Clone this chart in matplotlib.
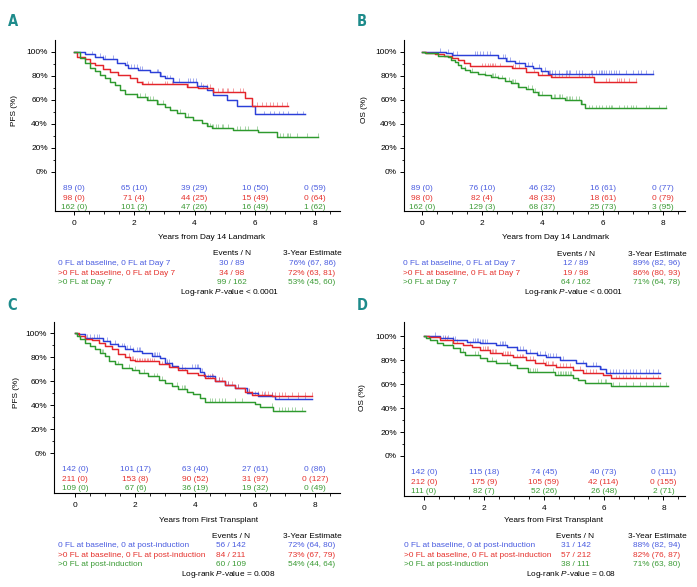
import numpy as np
import matplotlib
matplotlib.use('Agg')
import matplotlib.pyplot as plt
from matplotlib.ticker import FixedLocator

plt.rcParams['font.family'] = ['Liberation Sans', 'DejaVu Sans']
plt.rcParams['mathtext.fontset'] = 'custom'
plt.rcParams['mathtext.it'] = 'Liberation Sans:italic'
plt.rcParams['mathtext.rm'] = 'Liberation Sans'

# ---------------- data ----------------
# Panel A: PFS from Day 14 landmark
A_blue_t = [0, 0.37, 0.70, 0.97, 1.42, 1.69, 1.80, 2.13, 2.52, 2.85, 3.02, 3.30, 4.07, 4.40, 4.62, 5.07, 5.40, 6.01]
A_blue_s = [100, 98, 96, 94, 91, 89, 87, 85, 83, 80, 78, 75, 72, 68, 64, 60, 55, 48]
A_blue_end = 7.67
A_blue_c = [0.6, 0.85, 0.97, 1.03, 1.3, 1.75, 1.8, 1.9, 2.0, 2.1, 2.2, 2.25, 2.75, 2.8, 2.85, 2.9, 3.1, 3.2,
            3.5, 3.8, 3.85, 3.95, 4.05, 4.2, 6.3, 6.5, 6.65, 6.8, 6.95, 7.1, 7.4, 7.6]
A_red_t = [0, 0.1, 0.35, 0.53, 0.70, 0.97, 1.19, 1.47, 1.86, 2.08, 2.25, 3.74, 4.13, 4.62, 5.67, 5.90]
A_red_s = [100, 96, 94.5, 91, 89, 86, 83.5, 81, 78, 75, 73, 71, 70, 66.5, 62, 55]
A_red_end = 7.11
A_red_c = [2.25, 2.3, 2.47, 2.58, 3.02, 3.08, 3.24, 3.3, 3.8, 4.07, 4.29, 4.4, 4.51, 4.62, 4.79, 4.9, 4.96,
           5.07, 5.12, 5.29, 5.51, 5.62, 6.06, 6.23, 6.39, 6.5, 6.62, 6.73, 6.89, 7.06]
A_green_t = [0, 0.2, 0.37, 0.53, 0.70, 0.86, 1.03, 1.19, 1.36, 1.53, 1.69, 2.08, 2.41, 2.74, 3.02, 3.19, 3.41,
             3.68, 3.96, 4.24, 4.40, 4.57, 5.29, 6.12, 6.73]
A_green_s = [100, 95, 91, 87, 84, 81, 78.5, 75, 72.5, 68, 65, 62.5, 60, 57, 54, 51.5, 49, 46, 43, 40.5, 38,
             36.5, 35, 33, 29.5]
A_green_end = 8.11
A_green_c = [2.08, 2.19, 2.36, 2.47, 2.52, 2.63, 2.74, 2.8, 2.96, 3.19, 3.52, 3.68, 3.79, 4.4, 4.46, 4.51, 4.57,
             4.62, 4.73, 4.79, 4.9, 4.96, 5.12, 5.4, 5.51, 5.67, 5.79, 6.06, 6.84, 6.95, 7.06, 7.11, 7.17, 7.39,
             7.72, 8.11]

# Panel B: OS from Day 14 landmark
B_blue_t = [0, 0.82, 1.0, 2.53, 2.81, 3.08, 3.41, 3.69, 3.97, 4.19]
B_blue_s = [100, 99, 97.5, 95, 92.5, 90.5, 88.5, 86.5, 84, 82]
B_blue_end = 7.67
B_blue_c = [0.6, 0.88, 1.04, 1.16, 1.77, 1.82, 1.93, 2.04, 2.16, 2.27, 2.71, 2.77, 2.82, 2.93, 3.21, 3.54,
            3.66, 3.88, 4.1, 4.21, 4.27, 4.32, 4.43, 4.54, 4.77, 4.82, 4.88, 4.93, 5.1, 5.21, 5.32, 5.6, 5.66,
            5.77, 5.88, 5.93, 5.99, 6.04, 6.1, 6.21, 6.27, 6.38, 6.43, 6.54, 6.77, 6.99, 7.16, 7.27, 7.43, 7.67]
B_red_t = [0, 0.15, 0.45, 0.75, 1.0, 1.2, 1.4, 1.6, 3.0, 3.45, 3.85, 4.3, 5.7]
B_red_s = [100, 99, 98, 97, 95, 93, 90.5, 88, 86.5, 83, 81, 79.5, 75]
B_red_end = 7.1
B_red_c = [1.99, 2.1, 2.21, 2.27, 2.32, 2.38, 2.43, 2.6, 3.04, 3.1, 3.21, 3.43, 3.71, 3.99, 4.21, 4.32, 4.43,
           4.54, 4.66, 4.77, 4.88, 5.21, 5.32, 5.43, 5.54, 5.66, 6.1, 6.21, 6.49, 6.54, 6.6, 6.71, 6.88, 7.1]
B_green_t = [0, 0.1, 0.54, 0.87, 0.98, 1.09, 1.2, 1.31, 1.43, 1.59, 1.87, 2.09, 2.31, 2.53, 2.75, 2.97, 3.19,
             3.47, 3.69, 3.86, 4.3, 4.74, 5.29, 5.4]
B_green_s = [100, 99, 97, 95.5, 93, 91.5, 89, 87, 85, 83.5, 82, 81, 79.5, 78, 76, 74, 71, 69, 67, 64, 62, 60,
             57, 53]
B_green_end = 8.11
B_green_c = [1.43, 1.66, 2.1, 2.32, 2.38, 2.43, 2.54, 2.66, 2.77, 2.88, 2.99, 3.04, 3.1, 3.21, 3.54, 3.66,
             3.77, 3.88, 3.99, 4.38, 4.43, 4.54, 4.6, 4.66, 4.77, 4.82, 4.88, 4.93, 4.99, 5.1, 5.21, 5.32, 5.54,
             5.66, 5.77, 5.88, 5.99, 6.1, 6.21, 6.27, 6.32, 6.54, 6.71, 6.82, 6.93, 6.99, 7.1, 7.43, 7.54, 7.88,
             8.11]

# Panel C: PFS from first transplant
C_blue_t = [0, 0.05, 0.33, 0.94, 1.17, 1.44, 1.67, 1.94, 2.22, 2.56, 2.83, 3.0, 3.22, 3.44, 4.17, 4.28, 4.67,
            5.0, 5.33, 5.72, 6.11, 6.67]
C_blue_s = [100, 99, 96, 93.3, 91, 89, 87, 85.5, 83.5, 81, 79, 75.5, 72.5, 71, 68, 64, 60, 57, 54.5, 50,
            47.5, 45.5]
C_blue_end = 7.89
C_blue_c = [0.39, 0.5, 0.61, 0.72, 0.78, 1.06, 1.17, 1.33, 1.44, 1.56, 1.61, 1.72, 1.83, 1.94, 2.06, 2.11,
            2.17, 2.61, 2.67, 2.72, 2.78, 2.83, 3.06, 3.11, 3.22, 3.56, 3.89, 4.0, 4.06, 4.11, 4.17, 4.22, 4.33,
            4.56, 4.78, 5.11, 5.44, 5.78, 6.11, 6.28, 6.56, 6.78, 7.11, 7.44, 7.67]
C_red_t = [0, 0.11, 0.33, 0.56, 0.78, 1.0, 1.22, 1.44, 1.67, 1.83, 2.0, 2.78, 3.11, 3.44, 3.72, 4.11, 4.33,
           4.67, 5.0, 5.33, 5.67, 5.89, 6.56]
C_red_s = [100, 97.5, 95.5, 94, 92, 89, 86.5, 83, 80, 78, 76.5, 74, 71.5, 69, 67, 65.5, 63, 60, 57, 54.5,
           51.5, 49, 47.5]
C_red_end = 7.89
C_red_c = [0.56, 0.78, 1.78, 1.89, 1.94, 2.0, 2.06, 2.11, 2.17, 2.22, 2.28, 2.33, 2.39, 2.44, 2.5, 2.56, 2.61,
           2.89, 3.06, 3.17, 3.22, 3.56, 3.67, 4.33, 4.44, 4.5, 4.56, 4.61, 4.67, 4.78, 4.89, 5.0, 5.11, 5.22,
           5.44, 5.67, 5.78, 5.89, 6.0, 6.11, 6.22, 6.33, 6.44, 6.56, 6.67, 6.78, 6.89, 7.0, 7.22, 7.44, 7.67,
           7.89]
C_green_t = [0, 0.06, 0.17, 0.33, 0.5, 0.67, 0.83, 1.0, 1.11, 1.33, 1.56, 1.89, 2.11, 2.44, 2.78, 3.0, 3.22,
             3.44, 3.72, 3.94, 4.17, 4.33, 6.0, 6.17, 6.61]
C_green_s = [100, 98, 95, 92, 89, 86.5, 83.5, 81, 77, 74, 71, 69.5, 67, 64, 61.5, 58.5, 56, 54, 51.5, 49.5,
             46, 43, 41, 38.5, 35.5]
C_green_end = 7.67
C_green_c = [0.89, 0.94, 1.44, 1.78, 2.0, 2.28, 2.61, 2.72, 2.78, 2.89, 3.39, 3.56, 3.61, 3.67, 4.5, 4.56,
             4.67, 4.78, 4.89, 5.0, 5.33, 5.56, 6.56, 6.78, 6.89, 7.0, 7.11, 7.22, 7.33, 7.56]

# Panel D: OS from first transplant
D_blue_t = [0, 0.53, 0.98, 1.42, 1.87, 2.42, 2.76, 3.09, 3.42, 3.76, 4.09, 4.53, 5.09, 5.42, 5.87, 6.09]
D_blue_s = [100, 98, 96.7, 95.3, 94, 92.5, 90.5, 88.3, 86, 84, 82.8, 80, 77.2, 75, 72.2, 69]
D_blue_end = 7.87
D_blue_c = [0.37, 0.64, 0.7, 0.81, 0.98, 1.03, 1.64, 1.7, 1.76, 1.81, 1.87, 1.92, 1.98, 2.03, 2.09, 2.53,
            2.59, 2.64, 2.7, 3.09, 3.2, 3.31, 3.42, 3.53, 3.76, 3.87, 4.03, 4.14, 4.2, 4.31, 4.42, 4.53, 4.64,
            5.09, 5.31, 5.42, 5.64, 5.76, 5.92, 6.09, 6.2, 6.31, 6.42, 6.53, 6.64, 6.76, 6.87, 6.98, 7.09, 7.2,
            7.42, 7.53, 7.64, 7.81]
D_red_t = [0, 0.15, 0.53, 0.98, 1.31, 1.59, 1.87, 2.2, 2.59, 2.98, 3.42, 3.7, 4.03, 4.42, 4.98, 5.31, 5.98,
           6.26]
D_red_s = [100, 99, 96.7, 94.4, 92.5, 90.5, 88.3, 86, 84.2, 82.2, 80, 77.8, 75.8, 74, 71.7, 69.4, 67.5, 64.7]
D_red_end = 7.87
D_red_c = [0.7, 0.76, 1.09, 1.53, 1.98, 2.03, 2.09, 2.14, 2.2, 2.26, 2.31, 2.37, 2.42, 2.64, 2.7, 2.76, 2.81,
           2.87, 3.09, 3.2, 3.26, 3.31, 3.42, 3.53, 3.64, 3.7, 3.98, 4.09, 4.14, 4.26, 4.31, 4.42, 4.53, 4.64,
           4.76, 4.87, 4.98, 5.2, 5.42, 5.53, 5.64, 5.76, 6.2, 6.42, 6.53, 6.64, 6.76, 6.87, 6.98, 7.09, 7.2,
           7.42, 7.64, 7.81]
D_green_t = [0, 0.05, 0.2, 0.42, 0.64, 0.98, 1.2, 1.37, 1.87, 2.09, 2.42, 2.87, 3.09, 3.48, 4.37, 4.98, 5.14,
             5.37, 6.26]
D_green_s = [100, 98, 96.7, 94.4, 92.5, 89.7, 87, 84.2, 81.4, 79.4, 77.8, 75.8, 73, 70.3, 67.5, 64.7, 63.3,
             61, 58.3]
D_green_end = 8.14
D_green_c = [0.92, 1.31, 1.7, 1.81, 2.26, 2.42, 2.76, 2.87, 3.53, 3.64, 3.7, 3.76, 4.31, 4.48, 4.53, 4.59,
             4.64, 4.7, 4.76, 4.81, 4.87, 4.92, 4.98, 5.81, 5.92, 6.03, 6.09, 6.31, 6.53, 6.76, 6.98, 7.2, 7.42,
             7.64, 7.87, 8.09]

risk_times = [0, 2, 4, 6, 8]
A_risk = [["89 (0)", "65 (10)", "39 (29)", "10 (50)", "0 (59)"],
          ["98 (0)", "71 (4)", "44 (25)", "15 (49)", "0 (64)"],
          ["162 (0)", "101 (2)", "47 (26)", "16 (49)", "1 (62)"]]
B_risk = [["89 (0)", "76 (10)", "46 (32)", "16 (61)", "0 (77)"],
          ["98 (0)", "82 (4)", "48 (33)", "18 (61)", "0 (79)"],
          ["162 (0)", "129 (3)", "68 (37)", "25 (73)", "3 (95)"]]
C_risk = [["142 (0)", "101 (17)", "63 (40)", "27 (61)", "0 (86)"],
          ["211 (0)", "153 (8)", "90 (52)", "31 (97)", "0 (127)"],
          ["109 (0)", "67 (6)", "36 (19)", "19 (32)", "0 (49)"]]
D_risk = [["142 (0)", "115 (18)", "74 (45)", "40 (73)", "0 (111)"],
          ["212 (0)", "175 (9)", "105 (59)", "42 (114)", "0 (155)"],
          ["111 (0)", "82 (7)", "52 (26)", "26 (48)", "2 (71)"]]

groups_day7 = ["0 FL at baseline, 0 FL at Day 7", ">0 FL at baseline, 0 FL at Day 7", ">0 FL at Day 7"]
groups_post = ["0 FL at baseline, 0 at post-induction", ">0 FL at baseline, 0 FL at post-induction",
               ">0 FL at post-induction"]
A_events = ["30 / 89", "34 / 98", "99 / 162"]
A_est = ["76% (67, 86)", "72% (63, 81)", "53% (45, 60)"]
B_events = ["12 / 89", "19 / 98", "64 / 162"]
B_est = ["89% (82, 96)", "86% (80, 93)", "71% (64, 78)"]
C_events = ["56 / 142", "84 / 211", "60 / 109"]
C_est = ["72% (64, 80)", "73% (67, 79)", "54% (44, 64)"]
D_events = ["31 / 142", "57 / 212", "38 / 111"]
D_est = ["88% (82, 94)", "82% (76, 87)", "71% (63, 80)"]
A_p, B_p, C_p, D_p = "< 0.0001", "< 0.0001", "= 0.008", "= 0.08"

# ---------------- style ----------------
LINE = ['#2b3fd8', '#e4252b', '#2e9a2e']
TEXT = ['#4a5ce0', '#e5322d', '#3b9b35']
TEAL = '#1d8b8b'
FS = 5.95
W, H = 697, 587

fig = plt.figure(figsize=(W / 100, H / 100), dpi=100)


def fx(x):
    return x / W


def fy(y):
    return 1 - y / H


def draw_curve(ax, t, s, end, cens, color):
    t = np.asarray(t, float)
    s = np.asarray(s, float)
    ax.step(np.append(t, end), np.append(s, s[-1]), where='post', color=color, lw=1.05, zorder=3)
    c = np.asarray(cens, float)
    idx = np.searchsorted(t, c, side='right') - 1
    yv = s[idx]
    ax.vlines(c, yv, yv + 3.2, color=color, lw=0.6, alpha=0.5, zorder=2)


panels = [
    dict(letter='A', rect=(55, 40, 340, 211), xlim=(-0.631, 8.83), ylim=(-32.5, 110), ylab='PFS (%)',
         letter_xy=(12.5, 21), ylab_xy=(15, 110), xlab='Years from Day 14 Landmark', xlab_xy=(212, 237.5),
         curves=[(A_blue_t, A_blue_s, A_blue_end, A_blue_c), (A_red_t, A_red_s, A_red_end, A_red_c),
                 (A_green_t, A_green_s, A_green_end, A_green_c)],
         risk=A_risk, groups=groups_day7, events=A_events, est=A_est, p=A_p,
         tx=(58.3, 232, 312, 230), ty=(253.3, [263.3, 273.3, 283.0], 292.7)),
    dict(letter='B', rect=(404, 40, 685, 211), xlim=(-0.587, 8.73), ylim=(-32.5, 110), ylab='OS (%)',
         letter_xy=(362, 21), ylab_xy=(365, 110), xlab='Years from Day 14 Landmark', xlab_xy=(556, 237.5),
         curves=[(B_blue_t, B_blue_s, B_blue_end, B_blue_c), (B_red_t, B_red_s, B_red_end, B_red_c),
                 (B_green_t, B_green_s, B_green_end, B_green_c)],
         risk=B_risk, groups=groups_day7, events=B_events, est=B_est, p=B_p,
         tx=(402.7, 576, 657, 574), ty=(254, [263.3, 273.3, 282.7], 292.7)),
    dict(letter='C', rect=(54.3, 322, 340, 492.7), xlim=(-0.7, 8.83), ylim=(-32.8, 109.4), ylab='PFS (%)',
         letter_xy=(12, 306), ylab_xy=(16, 393), xlab='Years from First Transplant', xlab_xy=(209, 520),
         curves=[(C_blue_t, C_blue_s, C_blue_end, C_blue_c), (C_red_t, C_red_s, C_red_end, C_red_c),
                 (C_green_t, C_green_s, C_green_end, C_green_c)],
         risk=C_risk, groups=groups_post, events=C_events, est=C_est, p=C_p,
         tx=(58.3, 231, 312, 228), ty=(536, [545.7, 555.3, 564.7], 574.3)),
    dict(letter='D', rect=(404.3, 322, 685, 495.7), xlim=(-0.66, 8.72), ylim=(-33.1, 111.7), ylab='OS (%)',
         letter_xy=(362, 305), ylab_xy=(362, 398), xlab='Years from First Transplant', xlab_xy=(554, 520),
         curves=[(D_blue_t, D_blue_s, D_blue_end, D_blue_c), (D_red_t, D_red_s, D_red_end, D_red_c),
                 (D_green_t, D_green_s, D_green_end, D_green_c)],
         risk=D_risk, groups=groups_post, events=D_events, est=D_est, p=D_p,
         tx=(404, 575.5, 657, 571), ty=(536, [545.7, 555.3, 564.7], 574.3)),
]

risk_y = [-13.5, -21.8, -29.6]

for P in panels:
    l, t, r, b = P['rect']
    ax = fig.add_axes([fx(l), fy(b), (r - l) / W, (b - t) / H])
    ax.set_xlim(*P['xlim'])
    ax.set_ylim(*P['ylim'])
    for sp in ('top', 'right'):
        ax.spines[sp].set_visible(False)
    for sp in ('left', 'bottom'):
        ax.spines[sp].set_linewidth(0.8)
    ax.xaxis.set_major_locator(FixedLocator([0, 2, 4, 6, 8]))
    ax.xaxis.set_minor_locator(FixedLocator([0.5, 1, 1.5, 2.5, 3, 3.5, 4.5, 5, 5.5, 6.5, 7, 7.5, 8.5]))
    ax.yaxis.set_major_locator(FixedLocator([0, 20, 40, 60, 80, 100]))
    ax.yaxis.set_minor_locator(FixedLocator([10, 30, 50, 70, 90]))
    ax.set_yticklabels(['0%', '20%', '40%', '60%', '80%', '100%'])
    ax.tick_params(axis='both', which='major', length=3, width=0.7, labelsize=FS, colors='black')
    ax.tick_params(axis='both', which='minor', length=1.8, width=0.6)
    ax.tick_params(axis='x', which='major', pad=3.5)
    ax.tick_params(axis='y', which='major', pad=2.2)

    for (ct, cs, ce, cc), col in zip(P['curves'], LINE):
        draw_curve(ax, ct, cs, ce, cc, col)

    for row, yv, col in zip(P['risk'], risk_y, TEXT):
        for xt, lab in zip(risk_times, row):
            ax.text(xt, yv, lab, color=col, fontsize=FS, ha='center', va='center')

    # labels
    fig.text(fx(P['letter_xy'][0]), fy(P['letter_xy'][1]), P['letter'], color=TEAL, fontsize=10.5,
             fontweight='bold', fontstretch='condensed', family=['DejaVu Sans'], ha='center', va='center')
    fig.text(fx(P['ylab_xy'][0]), fy(P['ylab_xy'][1]), P['ylab'], fontsize=FS, rotation=90,
             ha='center', va='center')
    fig.text(fx(P['xlab_xy'][0]), fy(P['xlab_xy'][1]), P['xlab'], fontsize=FS, ha='center', va='center')

    lx, ex, sx, px_ = P['tx']
    hy, rows_y, ly = P['ty']
    fig.text(fx(ex), fy(hy), 'Events / N', fontsize=FS, ha='center', va='center')
    fig.text(fx(sx), fy(hy), '3-Year Estimate', fontsize=FS, ha='center', va='center')
    for g, e, s_, yy, col in zip(P['groups'], P['events'], P['est'], rows_y, TEXT):
        fig.text(fx(lx), fy(yy), g, fontsize=FS, color=col, ha='left', va='center')
        fig.text(fx(ex), fy(yy), e, fontsize=FS, color=col, ha='center', va='center')
        fig.text(fx(sx), fy(yy), s_, fontsize=FS, color=col, ha='center', va='center')
    fig.text(fx(px_), fy(ly), 'Log-rank $\\it{P}$-value ' + P['p'], fontsize=FS, ha='center', va='center')

fig.savefig('out.png', dpi=100)
